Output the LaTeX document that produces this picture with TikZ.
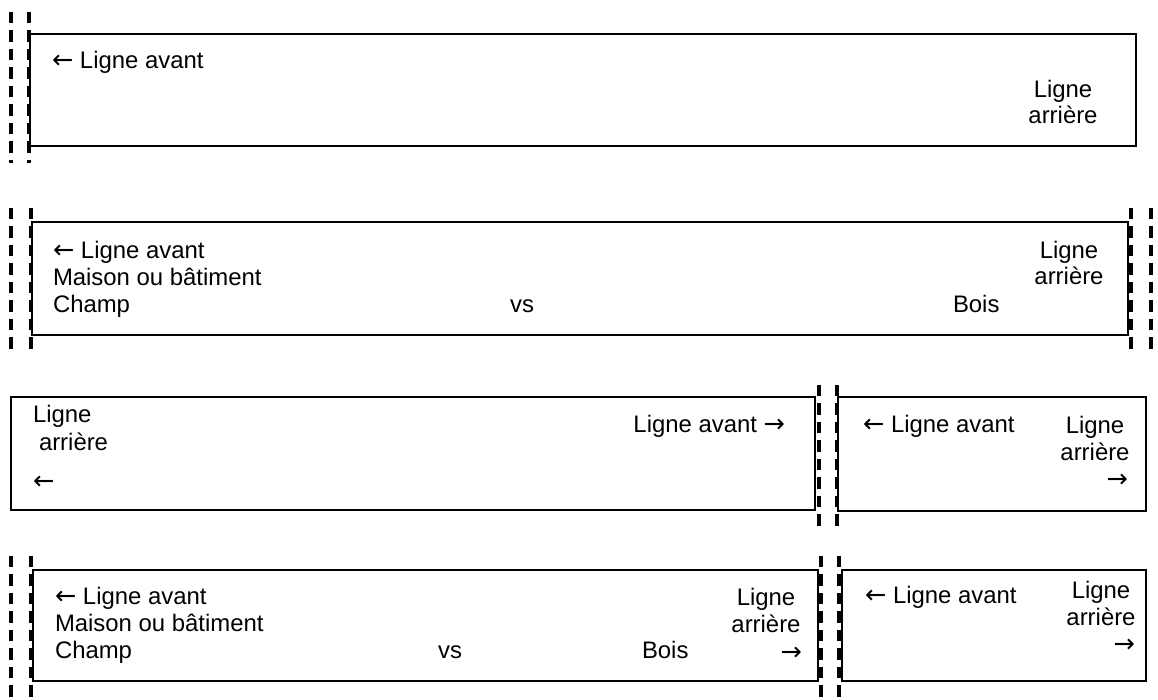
\documentclass[tikz,border=0pt]{standalone}
\usepackage{fontspec}
\setmainfont{Liberation Sans}
\newfontfamily\flechefont{DejaVu Sans}
\newcommand{\fg}{{\flechefont\fontsize{14.5}{15.4}\selectfont ←}}
\newcommand{\fd}{{\flechefont\fontsize{14.5}{15.4}\selectfont →}}

\begin{document}
\begin{tikzpicture}[x=0.02cm, y=-0.02cm,
	zone/.style = {draw, line width=1pt, inner sep=0pt, outer sep=0pt, anchor=north west},
	txt/.style = {inner sep=0pt, outer sep=0pt, font=\fontsize{13.6}{15.4}\selectfont},
	sep/.style = {line width=2pt, dash pattern=on 6.5pt off 4pt}]
	\useasboundingbox (0,0) rectangle (1158,699);
	% rangee 1
	\node[zone, minimum width=22.12cm, minimum height=2.24cm] (r1) at (30,34) {};
	\node[txt, anchor=base west] (av1) at (52,69) {\fg\ Ligne avant};
	\node[txt, anchor=base] (ar1a) at (1063,98) {Ligne};
	\node[txt, anchor=base] (ar1b) at (1063,124) {arrière};
	\draw[sep] (11,12) -- (11,163);
	\draw[sep] (29,12) -- (29,163);
	% rangee 2
	\node[zone, minimum width=21.92cm, minimum height=2.26cm] (r2) at (32,222) {};
	\node[txt, anchor=base west] (av2) at (53,258) {\fg\ Ligne avant};
	\node[txt, anchor=base west] (mb2) at (53,285) {Maison ou bâtiment};
	\node[txt, anchor=base west] (ch2) at (53,312) {Champ};
	\node[txt, anchor=base] (vs2) at (522,312) {vs};
	\node[txt, anchor=base west] (bo2) at (953,312) {Bois};
	\node[txt, anchor=base] (ar2a) at (1069,258) {Ligne};
	\node[txt, anchor=base] (ar2b) at (1069,284) {arrière};
	\draw[sep] (11,208) -- (11,354);
	\draw[sep] (31,208) -- (31,354);
	\draw[sep] (1131,208) -- (1131,354);
	\draw[sep] (1151,208) -- (1151,354);
	% rangee 3
	\node[zone, minimum width=16.08cm, minimum height=2.26cm] (r3a) at (11,397) {};
	\node[zone, minimum width=6.16cm, minimum height=2.28cm] (r3b) at (838,397) {};
	\node[txt, anchor=base west] (ar3a) at (33,422) {Ligne};
	\node[txt, anchor=base west] (ar3b) at (39,450) {arrière};
	\node[txt, anchor=base west] (la3) at (33,489) {\fg};
	\node[txt, anchor=base east] (av3) at (785,432) {Ligne avant \fd};
	\node[txt, anchor=base west] (av3b) at (863,432) {\fg\ Ligne avant};
	\node[txt, anchor=base] (ar3c) at (1095,433) {Ligne};
	\node[txt, anchor=base] (ar3d) at (1095,460) {arrière};
	\node[txt, anchor=base east] (ra3) at (1128,487) {\fd};
	\draw[sep] (819,385) -- (819,531);
	\draw[sep] (837,385) -- (837,531);
	% rangee 4
	\node[zone, minimum width=15.7cm, minimum height=2.22cm] (r4a) at (33,570) {};
	\node[zone, minimum width=6.08cm, minimum height=2.22cm] (r4b) at (842,570) {};
	\node[txt, anchor=base west] (av4) at (55,604) {\fg\ Ligne avant};
	\node[txt, anchor=base west] (mb4) at (55,631) {Maison ou bâtiment};
	\node[txt, anchor=base west] (ch4) at (55,658) {Champ};
	\node[txt, anchor=base] (vs4) at (450,658) {vs};
	\node[txt, anchor=base west] (bo4) at (642,658) {Bois};
	\node[txt, anchor=base] (ar4a) at (766,605) {Ligne};
	\node[txt, anchor=base] (ar4b) at (766,632) {arrière};
	\node[txt, anchor=base east] (ra4) at (802,660) {\fd};
	\node[txt, anchor=base west] (av4b) at (865,603) {\fg\ Ligne avant};
	\node[txt, anchor=base] (ar4c) at (1101,598) {Ligne};
	\node[txt, anchor=base] (ar4d) at (1101,625) {arrière};
	\node[txt, anchor=base east] (ra4b) at (1135,652) {\fd};
	\draw[sep] (11,556) -- (11,699);
	\draw[sep] (31,556) -- (31,699);
	\draw[sep] (821,556) -- (821,699);
	\draw[sep] (839,556) -- (839,699);
\end{tikzpicture}
\end{document}
